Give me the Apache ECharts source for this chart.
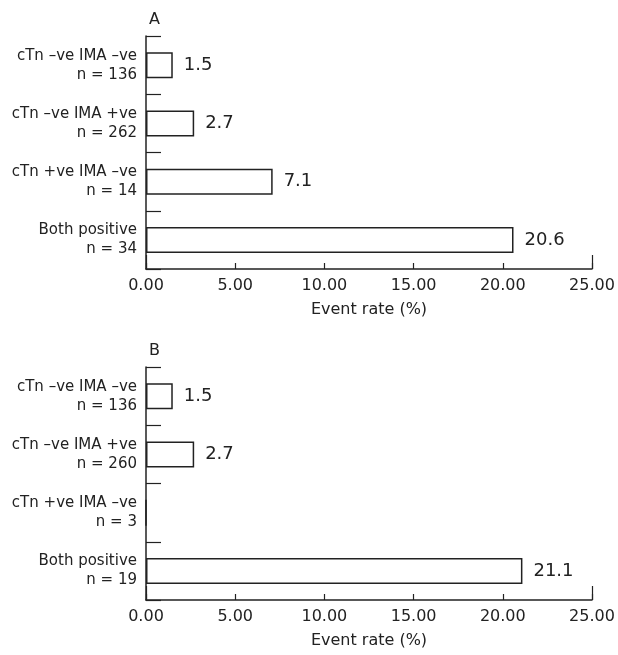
<!DOCTYPE html>
<html><head><meta charset="utf-8">
<script src="https://cdn.jsdelivr.net/npm/echarts@6/dist/echarts.min.js"></script>
<style>html,body{margin:0;padding:0;background:#fff}#c{width:618px;height:655px}</style>
</head><body><div id="c"></div>
<script>
const panelTitles = ['A', 'B'];
const categoriesA = ['cTn \u2013ve IMA \u2013ve\nn = 136', 'cTn \u2013ve IMA +ve\nn = 262', 'cTn +ve IMA \u2013ve\nn = 14', 'Both positive\nn = 34'];
const valuesA = [1.5, 2.7, 7.1, 20.6];
const categoriesB = ['cTn \u2013ve IMA \u2013ve\nn = 136', 'cTn \u2013ve IMA +ve\nn = 260', 'cTn +ve IMA \u2013ve\nn = 3', 'Both positive\nn = 19'];
const valuesB = [1.5, 2.7, 0, 21.1];
const xMin = 0, xMax = 25, xStep = 5;
const xName = 'Event rate (%)';

const FONT = 'DejaVu Sans';
const INK = '#222';
const tops = [36, 367];
const gridH = 233;

const chart = echarts.init(document.getElementById('c'), null, {renderer: 'canvas'});
const grids = [], xAxes = [], yAxes = [], series = [], titles = [];
[[categoriesA, valuesA], [categoriesB, valuesB]].forEach(([cats, vals], i) => {
  grids.push({left: 146, width: 446, top: tops[i], height: gridH});
  titles.push({text: panelTitles[i], left: 144, top: tops[i] - 29,
    textStyle: {fontFamily: FONT, fontSize: 16, fontWeight: 'normal', color: INK}});
  xAxes.push({
    gridIndex: i, type: 'value', min: xMin, max: xMax, interval: xStep, position: 'bottom',
    axisLine: {show: true, lineStyle: {color: INK, width: 1.5}},
    axisTick: {show: true, inside: true, length: 6, lineStyle: {color: INK, width: 1.2}},
    axisLabel: {formatter: v => v.toFixed(2), fontFamily: FONT, fontSize: 16, color: INK, margin: 9},
    splitLine: {show: false},
    name: xName, nameLocation: 'middle', nameGap: 33,
    nameTextStyle: {fontFamily: FONT, fontSize: 16, color: INK}
  });
  xAxes.push({
    gridIndex: i, type: 'value', min: xMin, max: xMax, interval: xMax - xMin, position: 'top', offset: -gridH,
    axisLine: {show: false},
    axisTick: {show: true, inside: false, length: 14, lineStyle: {color: INK, width: 1.2}},
    axisLabel: {show: false}, splitLine: {show: false}
  });
  yAxes.push({
    gridIndex: i, type: 'category', inverse: true, data: cats,
    axisLine: {show: true, lineStyle: {color: INK, width: 1.5}},
    axisTick: {show: true, inside: true, length: 15, lineStyle: {color: INK, width: 1.2}},
    axisLabel: {fontFamily: FONT, fontSize: 15, lineHeight: 19, color: INK, margin: 9, align: 'right'},
    splitLine: {show: false}
  });
  series.push({
    type: 'bar', xAxisIndex: i * 2, yAxisIndex: i, data: vals, barWidth: 26,
    itemStyle: {color: '#fff', borderColor: INK, borderWidth: 1.5},
    label: {show: true, position: 'right', distance: 11, fontFamily: FONT, fontSize: 18, color: INK,
      formatter: p => (p.value ? p.value.toFixed(1) : '')},
    silent: true, animation: false
  });
});

chart.setOption({
  animation: false,
  backgroundColor: '#fff',
  title: titles,
  grid: grids,
  xAxis: xAxes,
  yAxis: yAxes,
  series: series
});
</script>
</body></html>
